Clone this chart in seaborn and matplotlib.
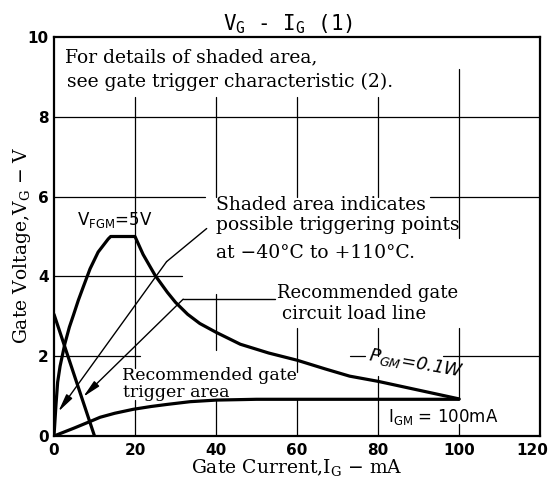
import numpy as np
import pandas as pd
import matplotlib
matplotlib.use("Agg")
import matplotlib.pyplot as plt
import matplotlib.transforms as mtransforms
import seaborn as sns

# ---------------- data ----------------
# V_FGM / P_GM envelope (forward gate limit, 5 V flat, 0.1 W hyperbola)
envelope_I = [0, 0.5, 0.9, 1.5, 2.7, 3.8, 4.8, 6.0, 7.2, 8.9, 10.9, 13.4, 14.0,
              20, 22, 25, 28, 30, 33, 36, 40, 46, 53, 60, 67, 73, 80, 90, 100]
envelope_V = [0, 0.8, 1.35, 1.75, 2.32, 2.73, 3.03, 3.4, 3.73, 4.19, 4.61, 4.94, 5.0,
              5.0, 4.55, 4.02, 3.6, 3.35, 3.05, 2.82, 2.6, 2.3, 2.08, 1.9, 1.68, 1.5, 1.37, 1.15, 0.93]
# lower boundary up to I_GM = 100 mA
lower_I = [0, 2.5, 5, 9.3, 11.4, 15, 19.6, 24, 27.8, 33.6, 40, 50, 100]
lower_V = [0, 0.1, 0.2, 0.38, 0.47, 0.57, 0.67, 0.74, 0.79, 0.86, 0.9, 0.92, 0.92]
# recommended gate circuit load line
load_I = [0, 10]
load_V = [3.05, 0]

x_ticks = [0, 20, 40, 60, 80, 100, 120]
y_ticks = [0, 2, 4, 6, 8, 10]

title_text = r"V$_\mathregular{G}$ - I$_\mathregular{G}$ (1)"
xlabel_text = r"Gate Current,I$_\mathregular{G}$ $-$ mA"
ylabel_text = r"Gate Voltage,V$_\mathregular{G}$ $-$ V"

# ---------------- layout (annotation / grid geometry) ----------------
# leader lines: polyline points, last segment ends with an arrow
leader_shaded = [(37.7, 5.2), (27.8, 4.37), (1.06, 0.61)]
leader_load = [(54.6, 3.43), (31.9, 3.43), (7.2, 0.98)]

# broken grid lines as in the scan: (value, [(lo, hi), ...]) in data units
h_grid = [(8, [(0, 120)]),
          (6, [(0, 37.3), (92.8, 120)]),
          (4, [(0, 31.7)]),
          (2, [(0, 21.3), (73, 76.8), (96, 120)])]
v_grid = [(20, [(0, 0.9), (1.7, 8.5)]),
          (40, [(0, 0.9), (2.15, 3.55), (6.0, 8.5)]),
          (60, [(0, 0.9), (1.6, 2.7), (6.0, 8.5)]),
          (80, [(0, 1.5), (2.0, 2.7), (6.0, 8.5)]),
          (100, [(0, 0.3), (0.92, 2.7), (4.96, 9.2)])]

sns.set_theme(style="white")
plt.rcParams['font.family'] = ['DejaVu Sans']
plt.rcParams['axes.linewidth'] = 1.5
plt.rcParams['axes.edgecolor'] = 'black'

W, H = 550, 486
fig = plt.figure(figsize=(W / 100, H / 100), dpi=100)
L, R, T, B = 54, 540, 37, 436
ax = fig.add_axes([L / W, 1 - B / H, (R - L) / W, (B - T) / H])
ax.set_xlim(0, 120)
ax.set_ylim(0, 10)

# grid segments
for y, segs in h_grid:
    for lo, hi in segs:
        ax.axhline(y, xmin=lo / 120, xmax=hi / 120, color='black', lw=0.9, zorder=1)
for x, segs in v_grid:
    for lo, hi in segs:
        ax.axvline(x, ymin=lo / 10, ymax=hi / 10, color='black', lw=0.9, zorder=1)

# curves
env_df = pd.DataFrame({"I": envelope_I, "V": envelope_V})
low_df = pd.DataFrame({"I": lower_I, "V": lower_V})
load_df = pd.DataFrame({"I": load_I, "V": load_V})
for df in (env_df, low_df, load_df):
    sns.lineplot(data=df, x="I", y="V", sort=False, estimator=None,
                 color='black', lw=2.3, ax=ax, zorder=3)

# leader lines with arrows
for pts in (leader_shaded, leader_load):
    xs = [p[0] for p in pts[:-1]]
    ys = [p[1] for p in pts[:-1]]
    ax.plot(xs, ys, color='black', lw=1.0, zorder=3)
    ax.annotate("", xy=pts[-1], xytext=pts[-2],
                arrowprops=dict(arrowstyle="-|>,head_length=0.9,head_width=0.18",
                                color='black', lw=1.0, shrinkA=0, shrinkB=0),
                zorder=3)

# ticks
ax.set_xticks(x_ticks)
ax.set_yticks(y_ticks)
ax.set_xticklabels([str(v) for v in x_ticks])
ax.set_yticklabels([str(v) for v in y_ticks])
ax.tick_params(axis='both', length=0, labelsize=11, colors='black')
ax.tick_params(axis='x', pad=5)
ax.tick_params(axis='y', pad=4)
for lab in ax.get_xticklabels() + ax.get_yticklabels():
    lab.set_fontweight('bold')
# last x tick label sits slightly left, as in the reference
last = ax.get_xticklabels()[-1]
last.set_transform(last.get_transform() +
                   mtransforms.ScaledTranslation(-8 / 100, 0, fig.dpi_scale_trans))
ax.set_xlabel("")
ax.set_ylabel("")
for s in ax.spines.values():
    s.set_linewidth(1.6)
    s.set_color('black')

serif = dict(family='DejaVu Serif', fontsize=13.5, color='black', va='baseline', ha='left')
ax.text(2.7, 9.36, "For details of shaded area,", **serif)
ax.text(3.1, 8.75, "see gate trigger characteristic (2).", **serif)
ax.text(40, 5.66, "Shaded area indicates", **serif)
ax.text(40, 5.16, "possible triggering points", **serif)
ax.text(40, 4.45, "at \u221240\u00b0C to +110\u00b0C.", **serif)
ax.text(55.1, 3.46, "Recommended gate", **dict(serif, fontsize=13))
ax.text(56.3, 2.93, "circuit load line", **dict(serif, fontsize=13))
ax.text(16.7, 1.40, "Recommended gate", **dict(serif, fontsize=12.5))
ax.text(17.0, 0.98, "trigger area", **dict(serif, fontsize=12.5))

sans = dict(family='DejaVu Sans', color='black', va='baseline', ha='left')
ax.text(5.7, 5.29, r"V$_\mathregular{FGM}$=5V", fontsize=12, **sans)
ax.text(77.5, 1.9, r"P$_\mathregular{GM}$=0.1W", fontsize=13, rotation=-10,
        rotation_mode='anchor', style='oblique', **sans)
ax.text(82.5, 0.35, r"I$_\mathregular{GM}$ = 100mA", fontsize=12, **sans)

fig.text(288 / W, 1 - 30 / H, title_text, family='DejaVu Sans Mono', fontsize=15,
         ha='center', va='baseline', color='black')
fig.text(297 / W, 1 - 474 / H, xlabel_text, family='DejaVu Serif', fontsize=13.5,
         ha='center', va='baseline', color='black')
fig.text(22 / W, 1 - 245 / H, ylabel_text, family='DejaVu Serif', fontsize=13.5,
         ha='center', va='center', rotation=90, color='black')

fig.savefig("out.png", dpi=100, facecolor='white')
